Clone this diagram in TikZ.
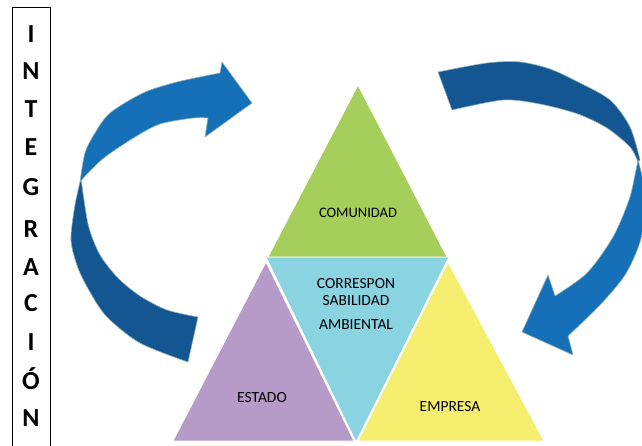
\documentclass[tikz,border=0pt]{standalone}
\usepackage{fontspec}
\setmainfont{Carlito}
\begin{document}
\begin{tikzpicture}[x=1pt,y=-1pt,
  letter/.style={font=\fontsize{26}{28}\selectfont\bfseries, inner sep=0pt},
  lbl/.style={font=\fontsize{15.5}{17}\selectfont, inner sep=0pt, text=black},
  arrlight/.style={fill=arrowlight, draw=gray!55!teal!60, line width=0.6pt},
  arrdark/.style={fill=arrowdark, draw=gray!55!teal!60, line width=0.6pt},
  tri/.style={draw=white, line width=0.8pt, line join=round}]
\definecolor{arrowlight}{RGB}{22,112,184}
\definecolor{arrowdark}{RGB}{20,86,146}
\definecolor{cgreen}{RGB}{166,206,90}
\definecolor{cblue}{RGB}{138,212,226}
\definecolor{cpurple}{RGB}{182,154,200}
\definecolor{cyellow}{RGB}{245,237,110}
\useasboundingbox (0,0) rectangle (642,445);
\begin{scope}
\clip (0,0) rectangle (642,445);
% left box
\draw[line width=0.9pt] (12,7) rectangle (50,452);
% triangles
\fill[cblue, tri] (266,257) -- (449,257) -- (356,442) -- cycle;
\fill[cgreen, tri] (358,85) -- (268,257) -- (447,257) -- cycle;
\fill[cpurple, tri] (266,262) -- (173,441) -- (354,441) -- cycle;
\fill[cyellow, tri] (448,262) -- (358,441) -- (544,441) -- cycle;
% left arrow: dark lower part
\path[arrdark] plot[smooth] coordinates {(81,178) (75,205) (71,240) (78,268) (90,292) (107,317) (140,343) (188,362)}
  -- plot[smooth] coordinates {(198,317) (167,310) (140,296) (118,278) (100,255) (89,228) (84,200) (81,178)} -- cycle;
% left arrow: light upper part
\path[arrlight] plot[smooth] coordinates {(80,182) (85,153) (95,133) (110,113) (143,93) (177,82) (220,73)}
  -- (222,62) -- (252,103) -- (205,137) -- (208,118)
  -- plot[smooth] coordinates {(208,118) (193,118) (160,124) (135,137) (105,157) (88,173) (80,182)} -- cycle;
% right arrow: dark upper part
\path[arrdark] plot[smooth] coordinates {(438,72) (487,63) (520,62) (550,69) (578,82) (610,100) (630,127) (640,160)}
  -- plot[smooth] coordinates {(638,162) (630,147) (607,128) (578,114) (540,104) (503,100) (452,110)} -- cycle;
% right arrow: light lower part
\path[arrlight] plot[smooth] coordinates {(638,160) (644,185) (645,210) (640,242) (625,275) (600,305) (568,336)}
  -- (573,355) -- (522,332) -- (548,275) -- (555,296)
  -- plot[smooth] coordinates {(555,296) (587,273) (613,237) (629,200) (635,175) (638,160)} -- cycle;
\end{scope}
% vertical word
\node[letter] (l1) at (31,34) {I};
\node[letter] (l2) at (31,71) {N};
\node[letter] (l3) at (31,109) {T};
\node[letter] (l4) at (31,147) {E};
\node[letter] (l5) at (31,187) {G};
\node[letter] (l6) at (31,229) {R};
\node[letter] (l7) at (31,267) {A};
\node[letter] (l8) at (31,303) {C};
\node[letter] (l9) at (31,342) {I};
\node[letter,anchor=base] (l10) at (31,389) {Ó};
\node[letter] (l11) at (31,418) {N};
% labels
\node[lbl, font=\fontsize{14.5}{17}\selectfont] (com) at (358,213) {COMUNIDAD};
\node[lbl] (c1) at (356,284) {CORRESPON};
\node[lbl] (c2) at (356,301) {SABILIDAD};
\node[lbl] (c3) at (356,325) {AMBIENTAL};
\node[lbl] (est) at (262,398) {ESTADO};
\node[lbl] (emp) at (450,407) {EMPRESA};
\end{tikzpicture}
\end{document}
